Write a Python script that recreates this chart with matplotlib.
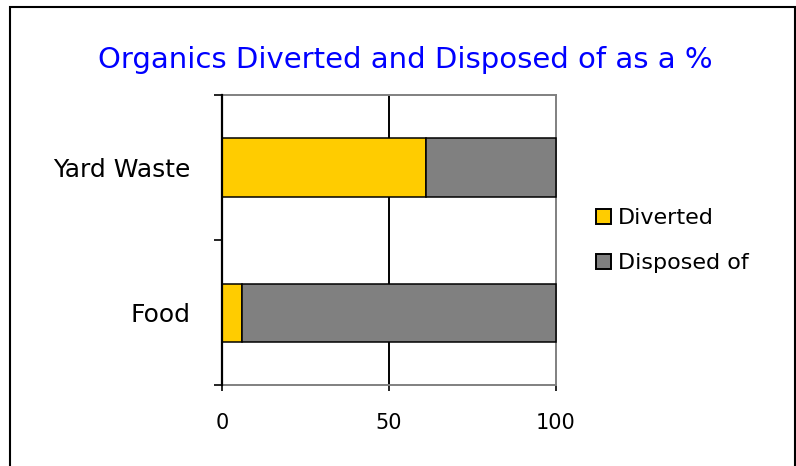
import matplotlib
matplotlib.use("Agg")
import matplotlib.pyplot as plt
from matplotlib.patches import Patch, Rectangle

# data (percent)
categories = ["Food", "Yard Waste"]
diverted = [6, 61]
disposed = [94, 39]
series_names = ["Diverted", "Disposed of"]
colors = ["#FFCC00", "#808080"]
xticks = [0, 50, 100]

plt.rcParams['font.family'] = ['DejaVu Sans']

fig = plt.figure(figsize=(7.96, 4.66), dpi=100)
ax = fig.add_axes([222/796, 81/466, 334/796, 290/466])

pos = list(range(len(categories)))
ax.barh(pos, diverted, height=0.4, color=colors[0], edgecolor='black', linewidth=1.1, zorder=3)
ax.barh(pos, disposed, left=diverted, height=0.4, color=colors[1], edgecolor='black', linewidth=1.1,
        zorder=3, clip_on=False)

ax.set_xlim(0, 100)
ax.set_ylim(-0.5, 1.5)

# gridline at 50 only
ax.axvline(50, color='black', linewidth=1.4, zorder=0)

# spines
for side in ['top', 'right', 'bottom']:
    ax.spines[side].set_color('#808080')
    ax.spines[side].set_linewidth(1.4)
ax.spines['left'].set_color('black')
ax.spines['left'].set_linewidth(1.6)
ax.spines['left'].set_zorder(5)

# x axis
ax.set_xticks(xticks)
ax.set_xticklabels([str(v) for v in xticks], fontsize=15)
ax.tick_params(axis='x', direction='out', length=4.3, width=1.2, color='black', pad=16)

# y axis: tick marks at category boundaries, labels at centres
ax.set_yticks([-0.5, 0.5, 1.5])
ax.set_yticklabels([])
ax.set_yticks(pos, minor=True)
ax.set_yticklabels(categories, minor=True, fontsize=18)
ax.tick_params(axis='y', which='major', direction='out', length=5.8, width=1.2, color='black')
ax.tick_params(axis='y', which='minor', length=0, pad=23)

fig.text(405/796, 1 - 67.7/466, "Organics Diverted and Disposed of as a %",
         color='#0000FF', fontsize=21, ha='center', va='baseline')

handles = [Patch(facecolor=c, edgecolor='black', linewidth=1.4) for c in colors]
fig.legend(handles, series_names, loc='upper left', bbox_to_anchor=(596/796, 1 - 208/466),
           frameon=False, fontsize=16, handlelength=0.68, handleheight=0.68,
           handletextpad=0.32, labelspacing=1.13, borderpad=0, borderaxespad=0)

# outer chart border (bottom edge falls outside the picture)
fig.patches.append(Rectangle((10/796, -0.05), 785/796, 1.05 - 7/466, transform=fig.transFigure,
                             fill=False, edgecolor='black', linewidth=1.5))

plt.savefig("out.png", dpi=100)
